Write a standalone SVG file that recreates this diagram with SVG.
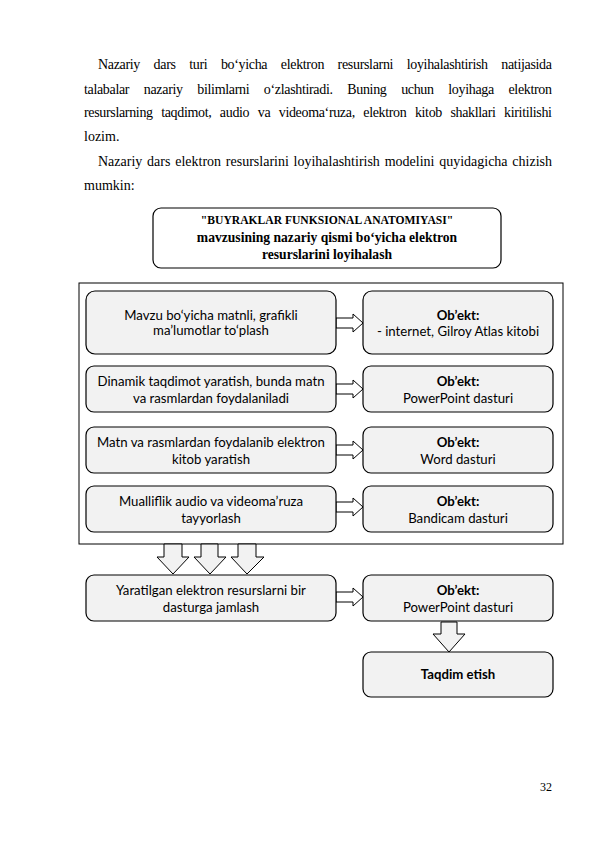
<svg xmlns="http://www.w3.org/2000/svg" width="595" height="842" viewBox="0 0 595 842">
<defs>
<style>
.p{font-family:"Liberation Serif","Times New Roman",serif;font-size:14px;fill:#000}
.t{font-family:"Liberation Serif","Times New Roman",serif;font-weight:bold;fill:#000;text-anchor:middle}
.b{font-family:Lato,"Open Sans",sans-serif;font-size:13.2px;fill:#000;text-anchor:middle}
.bb{font-weight:bold}
.box{fill:#f2f2f2;stroke:#000;stroke-width:1.2}
.arr{fill:#fff;stroke:#000;stroke-width:1}
.darr{fill:#f2f2f2;stroke:#000;stroke-width:1}
</style>
</defs>
<rect width="595" height="842" fill="#fff"/>
<g id="paragraph">
<text class="p" x="98" y="69" word-spacing="10.4" textLength="454" lengthAdjust="spacing">Nazariy dars turi bo‘yicha elektron resurslarni loyihalashtirish natijasida</text>
<text class="p" x="84" y="94" word-spacing="11.5" textLength="468" lengthAdjust="spacing">talabalar nazariy bilimlarni o‘zlashtiradi. Buning uchun loyihaga elektron</text>
<text class="p" x="84" y="117" word-spacing="5.3" textLength="468" lengthAdjust="spacing">resurslarning taqdimot, audio va videoma‘ruza, elektron kitob shakllari kiritilishi</text>
<text class="p" x="84" y="141">lozim.</text>
<text class="p" x="98" y="166" word-spacing="1.3" textLength="454" lengthAdjust="spacing">Nazariy dars elektron resurslarini loyihalashtirish modelini quyidagicha chizish</text>
<text class="p" x="84" y="190">mumkin:</text>
</g>
<g id="title">
<rect x="153" y="208" width="348" height="60" rx="8" fill="#fff" stroke="#000" stroke-width="1.2"/>
<text class="t" x="327" y="224" font-size="11.6">"BUYRAKLAR FUNKSIONAL ANATOMIYASI"</text>
<text class="t" x="327" y="242" font-size="13.6">mavzusining nazariy qismi bo‘yicha elektron</text>
<text class="t" x="327" y="259" font-size="13.6">resurslarini loyihalash</text>
</g>
<g id="container">
<rect x="79" y="283" width="484" height="261" fill="none" stroke="#000" stroke-width="1"/>
</g>
<g id="connectors">
<path class="arr" d="M336,318 H353 V314 L363,323 L353,332 V328 H336 Z"/>
<path class="arr" d="M336,384 H353 V380 L363,389 L353,398 V394 H336 Z"/>
<path class="arr" d="M336,445 H353 V441 L363,450 L353,459 V455 H336 Z"/>
<path class="arr" d="M336,502 H353 V498 L363,507 L353,516 V512 H336 Z"/>
<path class="arr" d="M336,592 H353 V588 L363,597 L353,606 V602 H336 Z"/>
<path class="darr" d="M164,544 V557 H157 L173,574 L189,557 H182 V544 Z"/>
<path class="darr" d="M201,544 V557 H194 L210,574 L226,557 H218 V544 Z"/>
<path class="darr" d="M238,544 V557 H231 L247,574 L264,557 H256 V544 Z"/>
<path class="darr" d="M441,622 V634 H433 L449,652 L465,634 H457 V622 Z"/>
</g>
<g id="n1">
<rect class="box" x="86" y="291" width="250" height="63" rx="9"/>
<text class="b" x="211" y="320">Mavzu bo‘yicha matnli, grafikli</text>
<text class="b" x="211" y="335">ma’lumotlar to‘plash</text>
</g>
<g id="o1">
<rect class="box" x="363" y="291" width="190" height="63" rx="9"/>
<text class="b bb" x="458" y="320">Ob’ekt:</text>
<text class="b" x="458" y="336">- internet, Gilroy Atlas kitobi</text>
</g>
<g id="n2">
<rect class="box" x="86" y="366" width="250" height="46" rx="8"/>
<text class="b" x="211" y="386">Dinamik taqdimot yaratish, bunda matn</text>
<text class="b" x="211" y="403">va rasmlardan foydalaniladi</text>
</g>
<g id="o2">
<rect class="box" x="363" y="366" width="190" height="46" rx="8"/>
<text class="b bb" x="458" y="386">Ob’ekt:</text>
<text class="b" x="458" y="403">PowerPoint dasturi</text>
</g>
<g id="n3">
<rect class="box" x="86" y="427" width="250" height="46" rx="8"/>
<text class="b" x="211" y="447">Matn va rasmlardan foydalanib elektron</text>
<text class="b" x="211" y="464">kitob yaratish</text>
</g>
<g id="o3">
<rect class="box" x="363" y="427" width="190" height="46" rx="8"/>
<text class="b bb" x="458" y="447">Ob’ekt:</text>
<text class="b" x="458" y="464">Word dasturi</text>
</g>
<g id="n4">
<rect class="box" x="86" y="486" width="250" height="46" rx="8"/>
<text class="b" x="211" y="506">Mualliflik audio va videoma’ruza</text>
<text class="b" x="211" y="523">tayyorlash</text>
</g>
<g id="o4">
<rect class="box" x="363" y="486" width="190" height="46" rx="8"/>
<text class="b bb" x="458" y="506">Ob’ekt:</text>
<text class="b" x="458" y="523">Bandicam dasturi</text>
</g>
<g id="n5">
<rect class="box" x="86" y="575" width="250" height="46" rx="8"/>
<text class="b" x="211" y="595">Yaratilgan elektron resurslarni bir</text>
<text class="b" x="211" y="612">dasturga jamlash</text>
</g>
<g id="o5">
<rect class="box" x="363" y="575" width="190" height="46" rx="8"/>
<text class="b bb" x="458" y="595">Ob’ekt:</text>
<text class="b" x="458" y="612">PowerPoint dasturi</text>
</g>
<g id="n6">
<rect class="box" x="363" y="652" width="190" height="45" rx="8"/>
<text class="b bb" x="458" y="679">Taqdim etish</text>
</g>
<g id="page">
<text x="552" y="791" font-family="Liberation Serif,serif" font-size="12" text-anchor="end">32</text>
</g>
</svg>
